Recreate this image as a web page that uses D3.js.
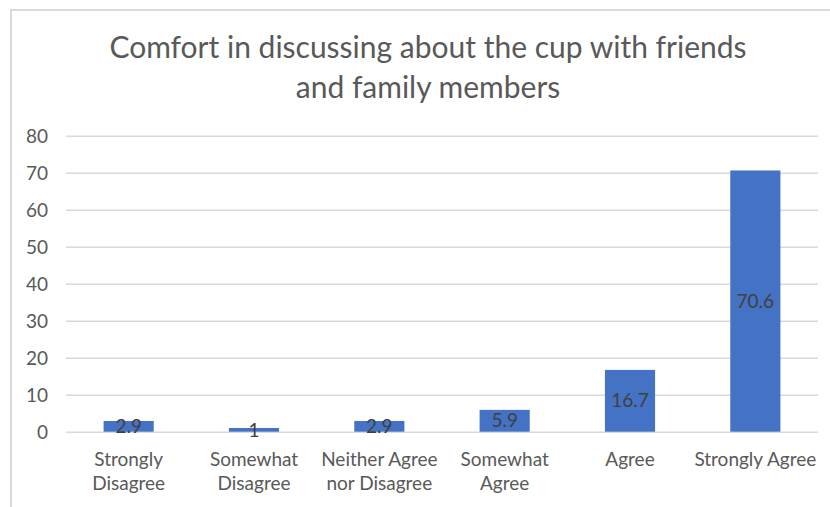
<!DOCTYPE html>
<html>
<head>
<meta charset="utf-8">
<script src="https://cdn.jsdelivr.net/npm/d3@7"></script>
<style>
  html, body { margin: 0; padding: 0; background: #fff; }
  svg { display: block; }
  text { font-family: Lato, "Liberation Sans", sans-serif; }
</style>
</head>
<body>
<svg id="chart" width="830" height="507"></svg>
<script>
// Survey responses (percent of respondents)
const categories = ["Strongly Disagree", "Somewhat Disagree", "Neither Agree nor Disagree", "Somewhat Agree", "Agree", "Strongly Agree"];
const categoryLines = [["Strongly", "Disagree"], ["Somewhat", "Disagree"], ["Neither Agree", "nor Disagree"], ["Somewhat", "Agree"], ["Agree"], ["Strongly Agree"]];
const values = [2.9, 1, 2.9, 5.9, 16.7, 70.6];
const yTicks = [0, 10, 20, 30, 40, 50, 60, 70, 80];
const titleLines = ["Comfort in discussing about the cup with friends", "and family members"];

const svg = d3.select("#chart");
const W = 830, H = 507;
const plot = { left: 66, right: 818, top: 135.7, bottom: 431.7 };

// Chart frame
svg.append("rect")
  .attr("x", 11).attr("y", 10)
  .attr("width", W + 10).attr("height", H + 10)
  .attr("fill", "#fff")
  .attr("stroke", "#d9d9d9").attr("stroke-width", 2);

const x = d3.scaleBand()
  .domain(categories)
  .range([plot.left, plot.right])
  .paddingInner(0.6)
  .paddingOuter(0.3);

const y = d3.scaleLinear()
  .domain([0, 80])
  .range([plot.bottom, plot.top]);

// Gridlines and value axis labels
const yAxis = d3.axisLeft(y)
  .tickValues(yTicks)
  .tickSize(-(plot.right - plot.left))
  .tickPadding(18)
  .tickFormat(d3.format("d"));

const gy = svg.append("g")
  .attr("transform", `translate(${plot.left},0)`)
  .call(yAxis);
gy.select(".domain").remove();
gy.selectAll(".tick line").attr("stroke", "#d9d9d9").attr("stroke-width", 1.5);
gy.selectAll(".tick text")
  .attr("fill", "#595959")
  .style("font-size", "19px")
  .attr("dy", "0.34em");

// Bars
svg.append("g").selectAll("rect")
  .data(values)
  .join("rect")
  .attr("x", (d, i) => x(categories[i]))
  .attr("width", x.bandwidth())
  .attr("y", d => y(d))
  .attr("height", d => y(0) - y(d))
  .attr("fill", "#4472c4");

// Value labels, centred in each bar
svg.append("g").selectAll("text")
  .data(values)
  .join("text")
  .attr("x", (d, i) => x(categories[i]) + x.bandwidth() / 2)
  .attr("y", d => (y(d) + y(0)) / 2)
  .attr("dy", "0.35em")
  .attr("text-anchor", "middle")
  .attr("fill", "#404040")
  .style("font-size", "19px")
  .text(d => d);

// Category labels
const cats = svg.append("g").selectAll("text")
  .data(categoryLines)
  .join("text")
  .attr("text-anchor", "middle")
  .attr("fill", "#595959")
  .style("font-size", "19px");
cats.each(function (lines, i) {
  const cx = x(categories[i]) + x.bandwidth() / 2;
  d3.select(this).selectAll("tspan")
    .data(lines)
    .join("tspan")
    .attr("x", cx)
    .attr("y", (d, j) => 466 + j * 24)
    .text(d => d);
});

// Title
svg.append("g").selectAll("text")
  .data(titleLines)
  .join("text")
  .attr("x", 428)
  .attr("y", (d, i) => 58 + i * 40)
  .attr("text-anchor", "middle")
  .attr("fill", "#595959")
  .style("font-size", "30px")
  .text(d => d);
</script>
</body>
</html>
